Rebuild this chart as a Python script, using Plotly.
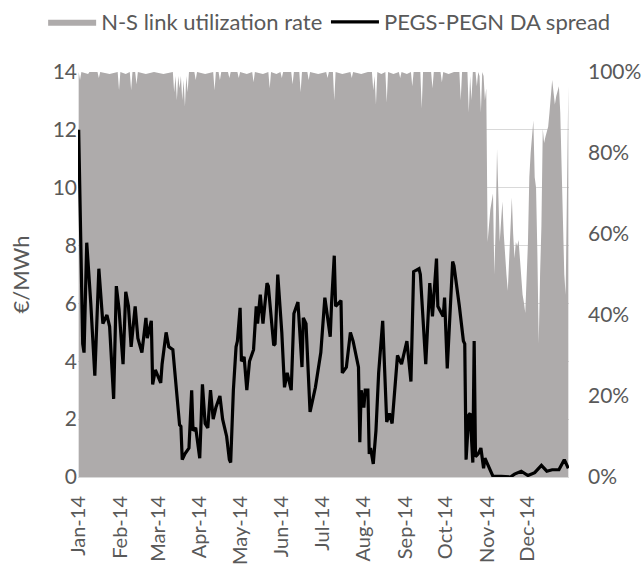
import plotly.graph_objects as go

# PEGS-PEGN day-ahead spread, EUR/MWh
spread_dates = [
    "2014-01-01", "2014-01-02", "2014-01-04", "2014-01-05", "2014-01-07", "2014-01-10",
    "2014-01-13", "2014-01-16", "2014-01-19", "2014-01-22", "2014-01-24", "2014-01-27",
    "2014-01-29", "2014-01-31", "2014-02-03", "2014-02-05", "2014-02-07", "2014-02-09",
    "2014-02-12", "2014-02-14", "2014-02-17", "2014-02-20", "2014-02-21", "2014-02-24",
    "2014-02-25", "2014-02-27", "2014-03-03", "2014-03-04", "2014-03-07", "2014-03-09",
    "2014-03-12", "2014-03-17", "2014-03-18", "2014-03-19", "2014-03-21", "2014-03-24",
    "2014-03-26", "2014-03-27", "2014-03-29", "2014-04-01", "2014-04-03", "2014-04-05",
    "2014-04-07", "2014-04-09", "2014-04-11", "2014-04-13", "2014-04-16", "2014-04-18",
    "2014-04-21", "2014-04-23", "2014-04-24", "2014-04-26", "2014-04-28", "2014-04-29",
    "2014-05-01", "2014-05-02", "2014-05-04", "2014-05-06", "2014-05-08", "2014-05-11",
    "2014-05-13", "2014-05-14", "2014-05-16", "2014-05-18", "2014-05-21", "2014-05-22",
    "2014-05-26", "2014-05-27", "2014-05-29", "2014-06-01", "2014-06-03", "2014-06-05",
    "2014-06-08", "2014-06-10", "2014-06-13", "2014-06-16", "2014-06-17", "2014-06-19",
    "2014-06-22", "2014-06-26", "2014-06-30", "2014-07-03", "2014-07-07", "2014-07-08",
    "2014-07-10", "2014-07-11", "2014-07-15", "2014-07-16", "2014-07-19", "2014-07-22",
    "2014-07-24", "2014-07-28", "2014-07-29", "2014-07-30", "2014-08-01", "2014-08-02",
    "2014-08-04", "2014-08-05", "2014-08-06", "2014-08-08", "2014-08-10", "2014-08-12",
    "2014-08-15", "2014-08-18", "2014-08-20", "2014-08-22", "2014-08-26", "2014-08-29",
    "2014-09-02", "2014-09-05", "2014-09-07", "2014-09-11", "2014-09-12", "2014-09-16",
    "2014-09-19", "2014-09-21", "2014-09-24", "2014-09-25", "2014-09-29", "2014-09-30",
    "2014-10-02", "2014-10-06", "2014-10-07", "2014-10-11", "2014-10-14", "2014-10-15",
    "2014-10-16", "2014-10-18", "2014-10-19", "2014-10-21", "2014-10-22", "2014-10-23",
    "2014-10-25", "2014-10-27", "2014-10-29", "2014-10-30", "2014-11-02", "2014-11-05",
    "2014-11-11", "2014-11-18", "2014-11-21", "2014-11-26", "2014-12-01", "2014-12-06",
    "2014-12-11", "2014-12-15", "2014-12-19", "2014-12-24", "2014-12-28", "2014-12-31",
]
spread_values = [
    12.0, 9.2, 4.6, 4.3, 8.1, 6.0,
    3.5, 7.2, 5.3, 5.6, 5.2, 2.7,
    6.6, 5.8, 3.9, 6.4, 5.9, 4.5,
    5.9, 4.8, 4.3, 5.5, 4.8, 5.4,
    3.2, 3.7, 3.25, 3.9, 5.0, 4.5,
    4.4, 1.8, 1.75, 0.6, 0.8, 1.0,
    3.0, 1.6, 1.7, 0.65, 3.2, 1.85,
    1.7, 3.0, 2.0, 2.4, 2.8, 2.0,
    1.4, 0.6, 0.5, 3.0, 4.5, 4.7,
    5.85, 4.0, 4.15, 3.0, 4.0, 4.4,
    5.9, 5.3, 6.3, 5.3, 6.7, 6.6,
    4.55, 4.6, 7.0, 5.0, 3.1, 3.6,
    3.0, 5.65, 6.05, 3.8, 5.5, 5.3,
    2.25, 3.1, 4.3, 6.2, 4.85, 6.0,
    7.65, 5.9, 6.1, 3.6, 3.8, 5.0,
    4.7, 3.8, 1.2, 3.0, 2.4, 3.0,
    3.0, 0.8, 1.0, 0.45, 1.6, 3.6,
    5.4, 1.9, 2.2, 1.85, 4.2, 3.9,
    4.7, 3.3, 7.1, 7.2, 7.0, 3.9,
    6.7, 5.55, 7.55, 5.9, 5.55, 6.2,
    3.75, 7.45, 7.3, 5.9, 4.7, 4.6,
    0.6, 2.15, 2.2, 0.5, 4.7, 0.7,
    0.8, 1.0, 0.3, 0.65, 0.35, 0.02,
    0.02, 0.0, 0.1, 0.2, 0.05, 0.15,
    0.4, 0.2, 0.25, 0.25, 0.6, 0.3,
]

# N-S link utilization rate (share of capacity), one row per month
util_dates = [
    "2014-01-01", "2014-01-02", "2014-01-03", "2014-01-08", "2014-01-09", "2014-01-15", "2014-01-16", "2014-01-17", "2014-01-24", "2014-01-30", "2014-01-31",
    "2014-02-01", "2014-02-05", "2014-02-08", "2014-02-09", "2014-02-10", "2014-02-12", "2014-02-13", "2014-02-14", "2014-02-20", "2014-02-26",
    "2014-03-05", "2014-03-12", "2014-03-13", "2014-03-14", "2014-03-15", "2014-03-16", "2014-03-17", "2014-03-18", "2014-03-19", "2014-03-20", "2014-03-21", "2014-03-22", "2014-03-23", "2014-03-24", "2014-03-28", "2014-03-29", "2014-03-30",
    "2014-04-05", "2014-04-11", "2014-04-12", "2014-04-13", "2014-04-15", "2014-04-16", "2014-04-17", "2014-04-22", "2014-04-23", "2014-04-24", "2014-04-29", "2014-04-30",
    "2014-05-01", "2014-05-06", "2014-05-10", "2014-05-11", "2014-05-12", "2014-05-18", "2014-05-22", "2014-05-23", "2014-05-24", "2014-05-28", "2014-05-31",
    "2014-06-01", "2014-06-02", "2014-06-08", "2014-06-09", "2014-06-10", "2014-06-14", "2014-06-15", "2014-06-16", "2014-06-20", "2014-06-21", "2014-06-22", "2014-06-28",
    "2014-07-04", "2014-07-05", "2014-07-06", "2014-07-09", "2014-07-10", "2014-07-11", "2014-07-16", "2014-07-22", "2014-07-23", "2014-07-24", "2014-07-30",
    "2014-08-04", "2014-08-07", "2014-08-08", "2014-08-09", "2014-08-10", "2014-08-11", "2014-08-14", "2014-08-17", "2014-08-18", "2014-08-19", "2014-08-23", "2014-08-27", "2014-08-28", "2014-08-29",
    "2014-09-02", "2014-09-05", "2014-09-06", "2014-09-07", "2014-09-12", "2014-09-13", "2014-09-14", "2014-09-20", "2014-09-21", "2014-09-22", "2014-09-27", "2014-09-28", "2014-09-29",
    "2014-10-03", "2014-10-07", "2014-10-11", "2014-10-12", "2014-10-13", "2014-10-17", "2014-10-18", "2014-10-19", "2014-10-20", "2014-10-21", "2014-10-23", "2014-10-24", "2014-10-25", "2014-10-26", "2014-10-27", "2014-10-28", "2014-10-29", "2014-10-30", "2014-10-31",
    "2014-11-01", "2014-11-02", "2014-11-03", "2014-11-04", "2014-11-05", "2014-11-06", "2014-11-07", "2014-11-08", "2014-11-09", "2014-11-10", "2014-11-11", "2014-11-12", "2014-11-13", "2014-11-14", "2014-11-15", "2014-11-16", "2014-11-17", "2014-11-18", "2014-11-19", "2014-11-20", "2014-11-21", "2014-11-22", "2014-11-23", "2014-11-24", "2014-11-25", "2014-11-26", "2014-11-27", "2014-11-28", "2014-11-29",
    "2014-12-01", "2014-12-02", "2014-12-03", "2014-12-04", "2014-12-05", "2014-12-06", "2014-12-07", "2014-12-08", "2014-12-09", "2014-12-10", "2014-12-11", "2014-12-12", "2014-12-13", "2014-12-14", "2014-12-15", "2014-12-16", "2014-12-17", "2014-12-18", "2014-12-19", "2014-12-20", "2014-12-21", "2014-12-22", "2014-12-23", "2014-12-24", "2014-12-25", "2014-12-26", "2014-12-27", "2014-12-28", "2014-12-29", "2014-12-30", "2014-12-31",
]
util_values = [
    1.0, 0.98, 1.0, 0.995, 1.0, 1.0, 0.985, 1.0, 0.995, 1.0, 0.955,
    1.0, 0.995, 1.0, 0.955, 1.0, 1.0, 0.97, 1.0, 0.995, 1.0,
    0.995, 1.0, 0.95, 0.99, 0.93, 0.99, 0.96, 0.99, 0.93, 0.98, 0.915, 0.99, 0.95, 1.0, 1.0, 0.98, 1.0,
    0.995, 1.0, 0.955, 1.0, 1.0, 0.98, 1.0, 1.0, 0.985, 1.0, 1.0, 0.985,
    1.0, 0.995, 1.0, 0.975, 1.0, 0.995, 1.0, 0.96, 1.0, 0.995, 1.0,
    0.985, 1.0, 1.0, 0.97, 1.0, 1.0, 0.95, 1.0, 1.0, 0.98, 1.0, 0.995,
    1.0, 0.985, 1.0, 1.0, 0.93, 1.0, 0.995, 1.0, 0.985, 1.0, 0.995,
    1.0, 1.0, 0.955, 0.99, 0.92, 1.0, 0.995, 1.0, 0.925, 1.0, 0.995, 1.0, 0.985, 1.0,
    0.995, 1.0, 0.965, 1.0, 1.0, 0.91, 1.0, 1.0, 0.96, 1.0, 1.0, 0.975, 1.0,
    0.995, 1.0, 1.0, 0.93, 1.0, 1.0, 0.90, 0.99, 0.93, 1.0, 1.0, 0.965, 1.0, 0.99, 0.90, 1.0, 0.99, 0.93, 0.96,
    0.58, 0.63, 0.66, 0.68, 0.70, 0.50, 0.62, 0.81, 0.66, 0.58, 0.63, 0.68, 0.60, 0.54, 0.50, 0.46, 0.55, 0.62, 0.69, 0.60, 0.54, 0.58, 0.57, 0.585, 0.53, 0.49, 0.45, 0.43, 0.405,
    0.58, 0.74, 0.80, 0.84, 0.88, 0.74, 0.715, 0.55, 0.33, 0.50, 0.62, 0.86, 0.825, 0.84, 0.85, 0.865, 0.90, 0.94, 0.98, 0.95, 0.92, 0.94, 0.95, 0.965, 0.90, 0.74, 0.60, 0.50, 0.45, 0.70, 0.965,
]

FONT = "Lato, 'Open Sans', sans-serif"
TXT = "#595959"
GRID = "#D9D9D9"
TICK_SIZE = 21

fig = go.Figure()

# area on the base axis so the spread line (overlay axis) is drawn on top of it
fig.add_trace(go.Scatter(
    x=util_dates, y=util_values, name="N-S link utilization rate",
    mode="lines", line=dict(width=0, color="#AEABAB"),
    fill="tozeroy", fillcolor="#AEABAB", yaxis="y", legend="legend",
))
fig.add_trace(go.Scatter(
    x=spread_dates, y=spread_values, name="PEGS-PEGN DA spread",
    mode="lines", line=dict(color="black", width=3.2), yaxis="y2", legend="legend2",
))

# one legend per item, side by side above the plot, so neither wraps
legend_style = dict(orientation="h", y=1.1235, yanchor="middle", xanchor="left",
                    font=dict(size=22, color=TXT), itemwidth=48)

fig.update_layout(
    width=643, height=565,
    margin=dict(l=78, r=74, t=72, b=88, autoexpand=False),
    paper_bgcolor="white", plot_bgcolor="white",
    font=dict(family=FONT, size=TICK_SIZE, color=TXT),
    showlegend=True,
    legend=dict(x=-0.071, **legend_style),
    legend2=dict(x=0.505, **legend_style),
    xaxis=dict(
        type="date", range=["2013-12-31 12:00", "2014-12-31 12:00"],
        tick0="2014-01-01", dtick="M1", tickformat="%b-%y", tickangle=-90,
        showgrid=False, showline=True, linecolor=GRID, linewidth=1,
        ticks="", ticklabelstandoff=10,
        tickfont=dict(size=20, color=TXT), automargin=False,
    ),
    # right-hand axis: utilization; the minor grid follows the left axis steps of 2 EUR/MWh
    yaxis=dict(
        range=[0, 1], side="right", tickformat=".0%", dtick=0.2,
        showgrid=False, zeroline=False, ticks="", automargin=False,
        ticklabelstandoff=18,
        tickfont=dict(size=TICK_SIZE, color=TXT),
        minor=dict(tickvals=[i / 7 for i in range(1, 8)], showgrid=True,
                   gridcolor=GRID, gridwidth=1, ticks=""),
    ),
    yaxis2=dict(
        range=[0, 14], dtick=2, side="left", overlaying="y",
        showgrid=False, zeroline=False, ticks="", automargin=False,
        title=dict(text="€/MWh", font=dict(size=22, color=TXT), standoff=16),
        tickfont=dict(size=TICK_SIZE, color=TXT),
    ),
)

# drop the default 8px page margin so the figure sits at the window's corner
fig.write_html("out.html", config={"displayModeBar": False},
               post_script="document.body.style.margin='0';")
